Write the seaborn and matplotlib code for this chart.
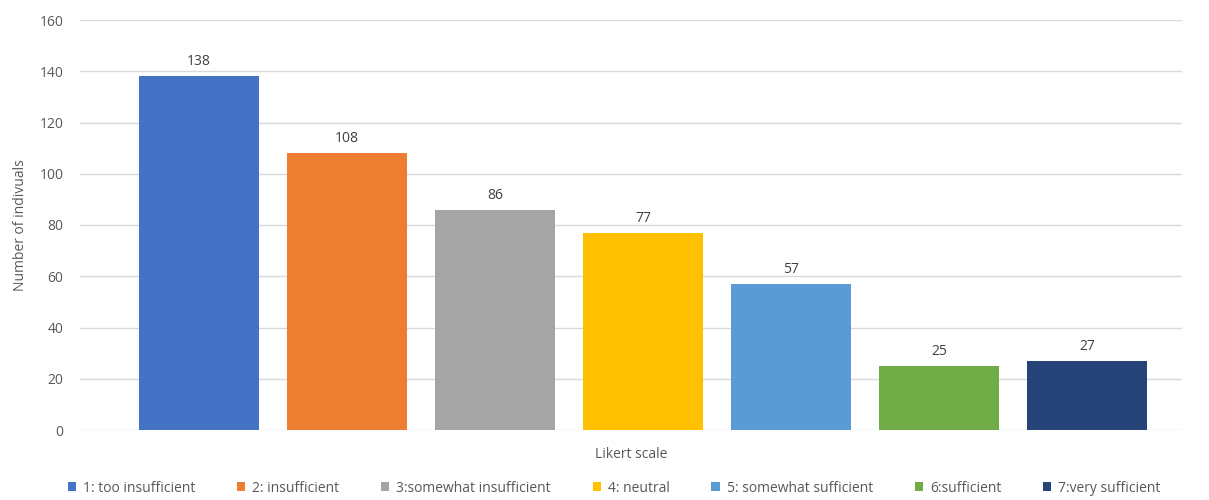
import matplotlib
matplotlib.use("Agg")
import matplotlib.pyplot as plt
import seaborn as sns
import pandas as pd
from matplotlib.patches import Patch

categories = ["1: too insufficient", "2: insufficient", "3:somewhat insufficient",
              "4: neutral", "5: somewhat sufficient", "6:sufficient", "7:very sufficient"]
values = [138, 108, 86, 77, 57, 25, 27]
colors = ["#4472C4", "#ED7D31", "#A5A5A5", "#FFC000", "#5B9BD5", "#70AD47", "#264478"]
yticks = [0, 20, 40, 60, 80, 100, 120, 140, 160]

sns.set_theme(style="white")
plt.rcParams['font.family'] = ['Open Sans', 'DejaVu Sans']

df = pd.DataFrame({"cat": categories, "val": values})

fig = plt.figure(figsize=(12.09, 5.0), dpi=100)
ax = fig.add_axes([0.0662, 0.14, 0.9115, 0.82])

sns.barplot(data=df, x="cat", y="val", hue="cat", palette=colors, order=categories,
            hue_order=categories, width=0.81, dodge=False, legend=False, ax=ax,
            saturation=1, edgecolor="none")

for c in ax.containers:
    ax.bar_label(c, padding=5, fontsize=10, color="#404040")

ax.set_ylim(0, 160)
ax.set_yticks(yticks)
ax.set_xlim(-0.8, 6.64)
ax.yaxis.grid(True, color="#D9D9D9", linewidth=1)
ax.set_axisbelow(True)
for s in ax.spines.values():
    s.set_visible(False)
ax.set_xticks([])
ax.tick_params(axis="y", colors="#595959", labelsize=10, length=0, pad=12)
ax.set_ylabel("Number of indivuals", fontsize=10, color="#595959", labelpad=8)
ax.set_xlabel("Likert scale", fontsize=10, color="#595959", labelpad=12)

handles = [Patch(facecolor=col, edgecolor="none") for col in colors]
fig.legend(handles, categories, loc="center", bbox_to_anchor=(0.508, 0.024), ncol=7,
           frameon=False, fontsize=10, handlelength=0.6, handleheight=0.6,
           handletextpad=0.5, columnspacing=3.0, labelcolor="#595959")

fig.savefig("out.png", dpi=100)
